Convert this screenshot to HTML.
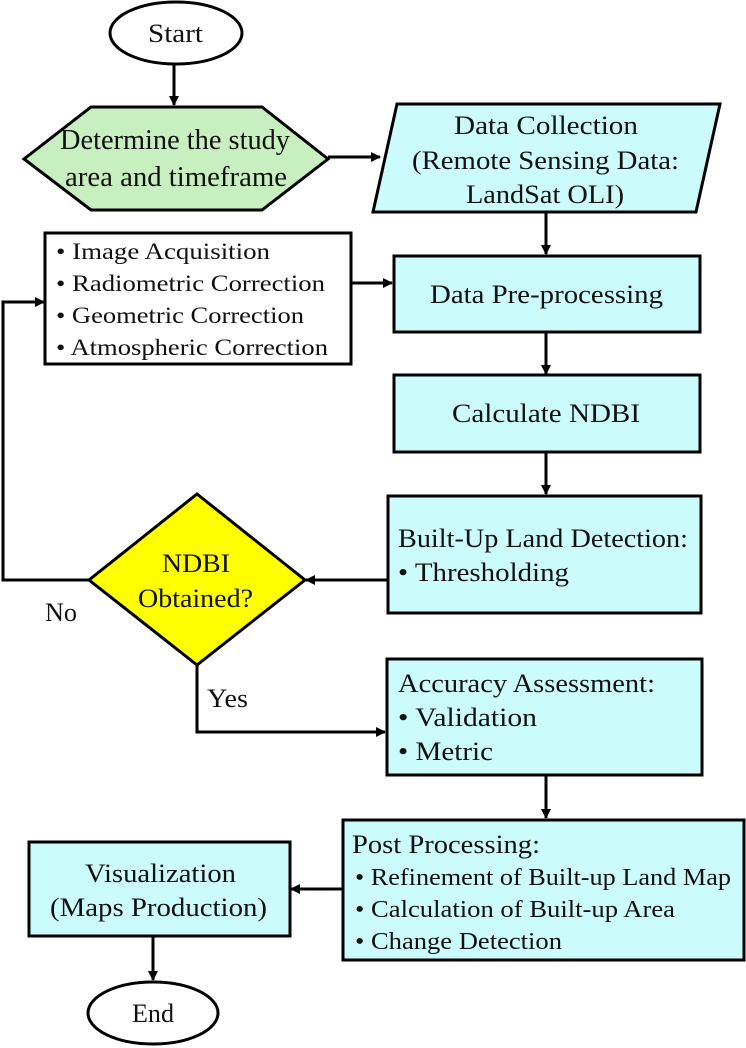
<!DOCTYPE html>
<html><head><meta charset="utf-8"><style>
html,body{margin:0;padding:0;background:#fff;}
svg{display:block;}
text{font-family:"Liberation Serif","Times New Roman",serif;fill:#111;}
</style></head><body>
<svg width="746" height="1048" viewBox="0 0 746 1048" xmlns="http://www.w3.org/2000/svg">
<defs>
<marker id="a" markerWidth="10" markerHeight="10" refX="9" refY="5" orient="auto" markerUnits="userSpaceOnUse">
<path d="M0,0 L10,5 L0,10 Z" fill="#000"/>
</marker>
</defs>
<g stroke="#000" stroke-width="3" fill="none">
<line x1="174" y1="64" x2="174" y2="105" marker-end="url(#a)"/>
<line x1="328" y1="157" x2="380" y2="157" marker-end="url(#a)"/>
<line x1="546" y1="212" x2="546" y2="254" marker-end="url(#a)"/>
<line x1="351" y1="283" x2="392" y2="283" marker-end="url(#a)"/>
<line x1="546" y1="332" x2="546" y2="374" marker-end="url(#a)"/>
<line x1="546" y1="452" x2="546" y2="494" marker-end="url(#a)"/>
<line x1="388" y1="580" x2="306" y2="580" marker-end="url(#a)"/>
<polyline points="89,580 3,580 3,302 44,302" marker-end="url(#a)"/>
<polyline points="197,665 197,732 385,732" marker-end="url(#a)"/>
<line x1="546" y1="775" x2="546" y2="818" marker-end="url(#a)"/>
<line x1="343" y1="889" x2="291" y2="889" marker-end="url(#a)"/>
<line x1="153" y1="936" x2="153" y2="980" marker-end="url(#a)"/>
</g>
<g stroke="#000" stroke-width="3">
<ellipse cx="176" cy="33" rx="66" ry="31" fill="#fff"/>
<polygon points="24,159 91,107 262,107 328,159 262,210 91,210" fill="#c8efc0"/>
<polygon points="397,104 720,104 696,212 373,212" fill="#ccfbfc"/>
<rect x="45" y="233" width="306" height="131" fill="#fff"/>
<rect x="394" y="256" width="306" height="76" fill="#ccfbfc"/>
<rect x="394" y="375" width="306" height="77" fill="#ccfbfc"/>
<rect x="388" y="496" width="313" height="117" fill="#ccfbfc"/>
<polygon points="197,494 305,580 197,665 89,580" fill="#ffff00"/>
<rect x="387" y="659" width="315" height="116" fill="#ccfbfc"/>
<rect x="343" y="820" width="401" height="140" fill="#ccfbfc"/>
<rect x="29" y="842" width="261" height="94" fill="#ccfbfc"/>
<ellipse cx="153" cy="1013" rx="65" ry="31" fill="#fff"/>
</g>
<g font-size="26" lengthAdjust="spacingAndGlyphs">
<text x="148" y="42" textLength="55" lengthAdjust="spacingAndGlyphs">Start</text>
<text x="60" y="149" font-size="28" textLength="230" lengthAdjust="spacingAndGlyphs">Determine the study</text>
<text x="65" y="186" font-size="28" textLength="222" lengthAdjust="spacingAndGlyphs">area and timeframe</text>
<text x="454" y="134" textLength="184" lengthAdjust="spacingAndGlyphs">Data Collection</text>
<text x="412" y="169" textLength="267" lengthAdjust="spacingAndGlyphs">(Remote Sensing Data:</text>
<text x="466" y="203" textLength="158" lengthAdjust="spacingAndGlyphs">LandSat OLI)</text>
<g font-size="23">
<text x="56" y="259" textLength="214" lengthAdjust="spacingAndGlyphs">• Image Acquisition</text>
<text x="56" y="291" textLength="269" lengthAdjust="spacingAndGlyphs">• Radiometric Correction</text>
<text x="56" y="323" textLength="248" lengthAdjust="spacingAndGlyphs">• Geometric Correction</text>
<text x="56" y="355" textLength="272" lengthAdjust="spacingAndGlyphs">• Atmospheric Correction</text>
</g>
<text x="430" y="303" textLength="233" lengthAdjust="spacingAndGlyphs">Data Pre-processing</text>
<text x="452" y="422" textLength="188" lengthAdjust="spacingAndGlyphs">Calculate NDBI</text>
<text x="398" y="547" textLength="290" lengthAdjust="spacingAndGlyphs">Built-Up Land Detection:</text>
<text x="398" y="581" textLength="171" lengthAdjust="spacingAndGlyphs">• Thresholding</text>
<text x="162" y="572" textLength="68" lengthAdjust="spacingAndGlyphs">NDBI</text>
<text x="138" y="607" textLength="115" lengthAdjust="spacingAndGlyphs">Obtained?</text>
<text x="45" y="621" textLength="32" lengthAdjust="spacingAndGlyphs">No</text>
<text x="207" y="707" textLength="41" lengthAdjust="spacingAndGlyphs">Yes</text>
<text x="398" y="692" textLength="257" lengthAdjust="spacingAndGlyphs">Accuracy Assessment:</text>
<text x="398" y="726" textLength="139" lengthAdjust="spacingAndGlyphs">• Validation</text>
<text x="398" y="760" textLength="95" lengthAdjust="spacingAndGlyphs">• Metric</text>
<text x="352" y="853" textLength="188" lengthAdjust="spacingAndGlyphs">Post Processing:</text>
<g font-size="24">
<text x="355" y="885" textLength="376" lengthAdjust="spacingAndGlyphs">• Refinement of Built-up Land Map</text>
<text x="355" y="917" textLength="320" lengthAdjust="spacingAndGlyphs">• Calculation of Built-up Area</text>
<text x="355" y="949" textLength="207" lengthAdjust="spacingAndGlyphs">• Change Detection</text>
</g>
<text x="85" y="882" textLength="151" lengthAdjust="spacingAndGlyphs">Visualization</text>
<text x="50" y="916" textLength="217" lengthAdjust="spacingAndGlyphs">(Maps Production)</text>
<text x="132" y="1022" textLength="42" lengthAdjust="spacingAndGlyphs">End</text>
</g>
</svg>
</body></html>
